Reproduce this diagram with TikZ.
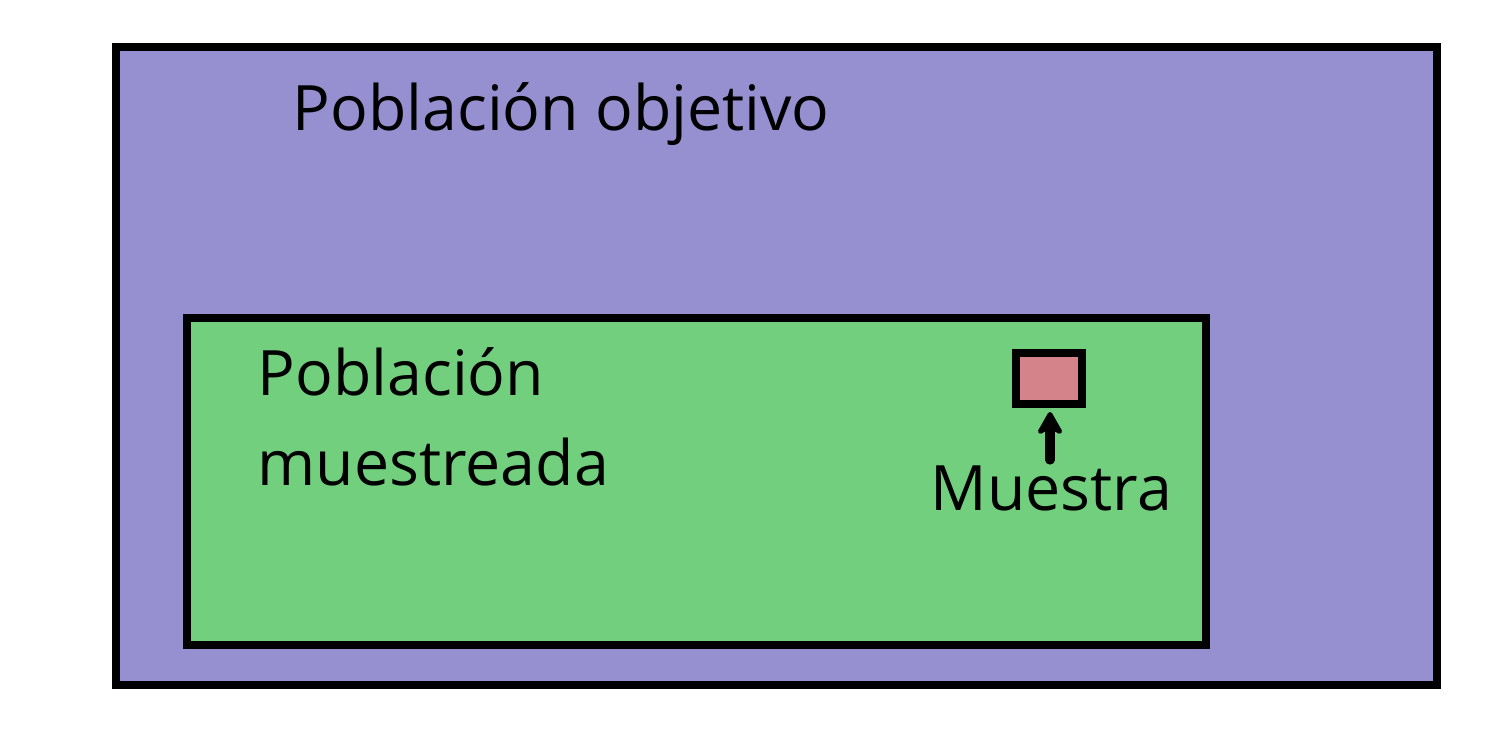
\documentclass[tikz,border=0pt]{standalone}
\usepackage{fontspec}
\setmainfont{Open Sans}
\usetikzlibrary{arrows.meta}
\definecolor{purplebg}{HTML}{968FD0}
\definecolor{greenbg}{HTML}{72CF7E}
\definecolor{pinkbg}{HTML}{D5838A}
\tikzset{
  box/.style={draw=black, line width=2.4pt},
  lbl/.style={font=\fontsize{17.8}{21}\selectfont, inner sep=0pt, anchor=base west},
}
\begin{document}
\begin{tikzpicture}[x=0.01cm,y=-0.01cm]
\useasboundingbox (0,0) rectangle (1500,750);
\path[box, fill=purplebg] (116,47) rectangle (1437,685);
\path[box, fill=greenbg] (187,318) rectangle (1206,645);
\path[box, fill=pinkbg] (1016,353) rectangle (1082,404);
\coordinate (mb) at (1050,412);
\node[lbl] (t1) at (292,130) {Población objetivo};
\node[lbl] (t2) at (257,395) {Población};
\node[lbl] (t3) at (257,485) {muestreada};
\node[lbl] (t4) at (930,510) {Muestra};
\coordinate (ab) at (1050,460);
\draw[line width=2.6pt, line cap=round, -{Stealth[length=8pt,width=9pt,round]}] (ab) -- (mb);
\end{tikzpicture}
\end{document}
